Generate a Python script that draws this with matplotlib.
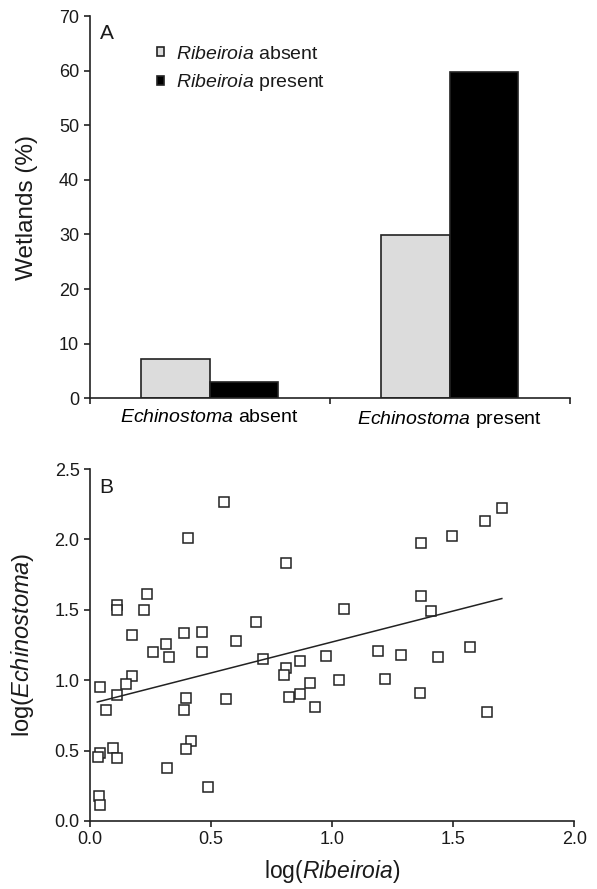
import numpy as np
import matplotlib
matplotlib.use('Agg')
import matplotlib.pyplot as plt

plt.rcParams['font.family'] = ['Liberation Sans', 'DejaVu Sans']
plt.rcParams['mathtext.fontset'] = 'custom'
plt.rcParams['mathtext.rm'] = 'Liberation Sans'
plt.rcParams['mathtext.it'] = 'Liberation Sans:italic'

# ---- panel A data ----
groups = ['$\\it{Echinostoma}$ absent', '$\\it{Echinostoma}$ present']
rib_absent = [7.2, 29.9]
rib_present = [3.0, 59.7]
series_names = ['$\\it{Ribeiroia}$ absent', '$\\it{Ribeiroia}$ present']

# ---- panel B data ----
log_rib = [0.555, 0.406, 0.810, 0.237, 0.110, 0.113, 0.223, 0.687, 0.175, 0.388,
           0.463, 0.314, 0.603, 0.259, 0.326, 0.463, 0.716, 0.807, 0.802, 0.865,
           0.175, 0.150, 0.041, 0.110, 0.066, 0.397, 0.561, 0.386, 0.821, 0.865,
           0.417, 0.397, 0.096, 0.041, 0.032, 0.113, 0.317, 0.488, 0.036, 0.041,
           1.700, 1.632, 1.494, 1.365, 1.365, 1.048, 1.408, 1.570, 1.187, 0.975,
           1.284, 1.435, 0.909, 1.029, 1.219, 0.930, 1.362, 1.640]
log_echi = [2.268, 2.008, 1.835, 1.610, 1.534, 1.499, 1.497, 1.411, 1.323, 1.333,
            1.345, 1.257, 1.278, 1.203, 1.163, 1.203, 1.148, 1.084, 1.037, 1.136,
            1.028, 0.973, 0.952, 0.893, 0.788, 0.871, 0.864, 0.788, 0.881, 0.902,
            0.570, 0.511, 0.516, 0.485, 0.452, 0.445, 0.374, 0.244, 0.178, 0.111,
            2.225, 2.131, 2.027, 1.972, 1.598, 1.506, 1.489, 1.233, 1.205, 1.174,
            1.181, 1.163, 0.978, 1.001, 1.006, 0.812, 0.911, 0.774]
fit_x = [0.03, 1.70]
fit_y = [0.845, 1.58]

txt = '#1a1a1a'
fig = plt.figure(figsize=(5.97, 8.89), dpi=100)

def style_axes(ax):
    for s in ['top', 'right']:
        ax.spines[s].set_visible(False)
    for s in ['left', 'bottom']:
        ax.spines[s].set_linewidth(1.2)
        ax.spines[s].set_color('#222222')
    ax.tick_params(direction='out', length=4, width=1.2, colors='#222222',
                   labelsize=13, labelcolor=txt)

#------------------ panel A ----------------------#
axA = fig.add_axes([0.150, 0.552, 0.804, 0.430])
x = np.arange(len(groups))
w = 0.285
axA.bar(x - w/2, rib_absent, w, color='#dcdcdc', edgecolor='#222222', linewidth=1.2,
        label=series_names[0])
axA.bar(x + w/2, rib_present, w, color='black', edgecolor='#222222', linewidth=1.2,
        label=series_names[1])
axA.set_xlim(-0.5, 1.5)
axA.set_ylim(0, 70)
axA.set_yticks(np.arange(0, 71, 10))
axA.set_xticks([-0.5, 0.5, 1.5])
axA.set_xticklabels([])
axA.set_xticks(x, minor=True)
axA.set_xticklabels(groups, minor=True)
style_axes(axA)
axA.tick_params(axis='x', which='minor', length=0, pad=8, labelsize=14)
axA.set_ylabel('Wetlands (%)', fontsize=17.5, color=txt, labelpad=15)
axA.text(0.022, 0.978, 'A', transform=axA.transAxes, fontsize=15, color=txt,
         va='top', ha='left')
axA.legend(loc='upper left', bbox_to_anchor=(0.12, 0.948), frameon=False,
           fontsize=14, handlelength=0.38, handleheight=0.38,
           handletextpad=0.6, labelspacing=0.5, borderpad=0, labelcolor=txt)

#------------------ panel B ----------------------#
axB = fig.add_axes([0.1508, 0.0765, 0.8115, 0.3959])
axB.plot(log_rib, log_echi, 's', ms=7.5, mfc='white', mec='#222222', mew=1.1)
axB.plot(fit_x, fit_y, color='#222222', lw=1.1)
axB.set_xlim(0, 2.0)
axB.set_ylim(0, 2.5)
axB.set_xticks(np.arange(0, 2.01, 0.5))
axB.set_yticks(np.arange(0, 2.51, 0.5))
axB.xaxis.set_major_formatter(matplotlib.ticker.FormatStrFormatter('%.1f'))
axB.yaxis.set_major_formatter(matplotlib.ticker.FormatStrFormatter('%.1f'))
style_axes(axB)
axB.set_xlabel('log($\\it{Ribeiroia}$)', fontsize=16.5, color=txt, labelpad=7)
axB.set_ylabel('log($\\it{Echinostoma}$)', fontsize=17, color=txt, labelpad=13)
axB.text(0.02, 0.975, 'B', transform=axB.transAxes, fontsize=15, color=txt,
         va='top', ha='left')

fig.savefig('out.png', dpi=100)
